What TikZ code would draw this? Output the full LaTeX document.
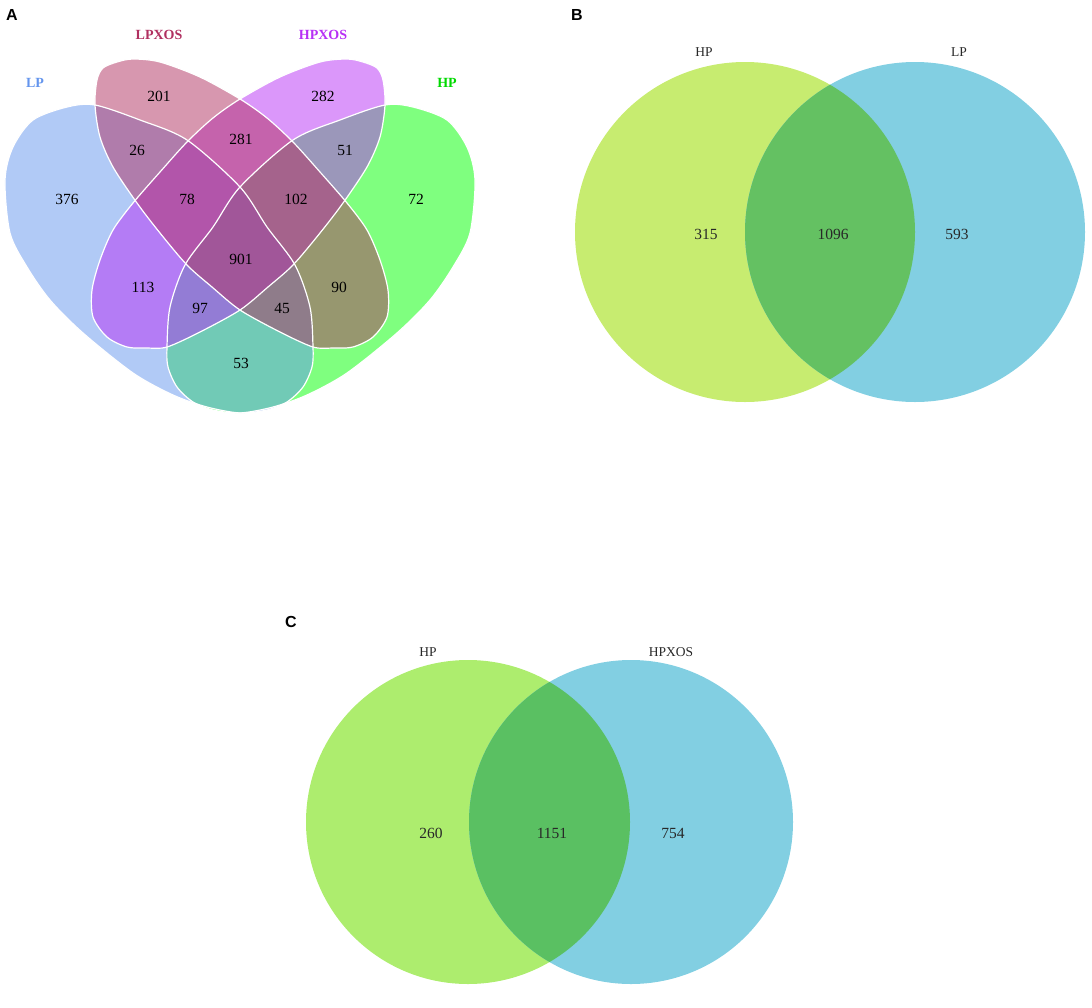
\documentclass[tikz,border=0pt]{standalone}
\usepackage{fontspec}
\setmainfont{Liberation Serif}
\newfontfamily\panelfont{Liberation Sans}
\definecolor{lpblue}{RGB}{100,149,237}
\definecolor{lpxosred}{RGB}{176,48,96}
\definecolor{hpxosviolet}{RGB}{183,48,245}
\definecolor{hpgreen}{RGB}{0,255,0}
\definecolor{bhpfill}{RGB}{199,236,112}
\definecolor{chpfill}{RGB}{173,237,110}
\definecolor{lpfill}{RGB}{130,207,226}
\definecolor{bbothfill}{RGB}{100,193,98}
\definecolor{cbothfill}{RGB}{90,192,98}
\definecolor{numgray}{RGB}{40,40,40}
\tikzset{
  setfill/.style={fill=#1, fill opacity=0.5},
  edge/.style={draw=white, line width=1.2pt},
  count/.style={font=\fontsize{15.5}{18}\selectfont},
  setlabel/.style={font=\fontsize{14}{17}\selectfont\bfseries, text=#1},
  panel/.style={font=\panelfont\fontsize{16}{19}\selectfont\bfseries},
  vcount/.style={font=\fontsize{15.5}{18}\selectfont, text=numgray},
  vlabel/.style={font=\fontsize{13.5}{16}\selectfont, text=numgray}
}
\newcommand{\lpshape}{plot[smooth cycle] coordinates {(95,105) (67,107) (33,120) (13,147) (5,180) (10,233) (27,267) (50,300) (83,333) (133,373) (173,395) (207,407) (240,413) (267,410) (287,402) (303,387) (312,367) (313,347) (310,307) (295,265) (267,227) (240,187) (187,140) (140,120)}}
\newcommand{\lpxosshape}{plot[smooth cycle] coordinates {(95,105) (97,80) (103,68) (117,62) (133,59) (160,62) (200,77) (240,99) (267,118) (293,142) (320,172) (347,203) (367,230) (380,260) (388,290) (387,317) (373,337) (353,347) (333,348) (313,347) (280,332) (240,310) (212,287) (187,265) (160,233) (137,203) (113,167) (100,137)}}
\begin{document}
\begin{tikzpicture}[x=1pt, y=-1pt]
\useasboundingbox (0,0) rectangle (1092,1007);
% A
\begin{scope}[shift={(480,0)}, xscale=-1]
\fill[setfill=hpgreen] \lpshape;
\end{scope}
\fill[setfill=lpblue] \lpshape;
\begin{scope}[shift={(480,0)}, xscale=-1]
\fill[setfill=hpxosviolet] \lpxosshape;
\end{scope}
\fill[setfill=lpxosred] \lpxosshape;
\draw[edge] \lpshape;
\draw[edge] \lpxosshape;
\begin{scope}[shift={(480,0)}, xscale=-1]
\draw[edge] \lpshape;
\draw[edge] \lpxosshape;
\end{scope}
\node[panel] (pa) at (12,15) {A};
\node[setlabel=lpblue] (lplab) at (35,83) {LP};
\node[setlabel=lpxosred] (lpxoslab) at (159,35) {LPXOS};
\node[setlabel=hpxosviolet] (hpxoslab) [node distance=164pt, right of=lpxoslab] {HPXOS};
\node[setlabel=hpgreen!85!black] (hplab) [node distance=412pt, right of=lplab] {HP};
\node[count] (all) at (241,259) {901};
\node[count] (n376) at (67,199) {376};
\node[count] (n201) at (159,96) {201};
\node[count] (n282) at (323,96) {282};
\node[count] (n72) at (416,199) {72};
\node[count] (n26) at (137,150) {26};
\node[count] (n281) at (241,139) {281};
\node[count] (n51) at (345,150) {51};
\node[count] (n78) at (187,199) {78};
\node[count] (n102) at (296,199) {102};
\node[count] (n113) at (143,287) {113};
\node[count] (n90) at (339,287) {90};
\node[count] (n97) at (200,308) {97};
\node[count] (n45) at (282,308) {45};
\node[count] (n53) at (241,363) {53};
% B
\fill[bhpfill] (745,232) circle (170pt);
\fill[lpfill] (915,232) circle (170pt);
\begin{scope}
\clip (745,232) circle (170pt);
\fill[bbothfill] (915,232) circle (170pt);
\end{scope}
\node[panel] (pb) at (577,15) {B};
\node[vlabel] (bhplab) at (704,52) {HP};
\node[vlabel] (blplab) [node distance=255pt, right of=bhplab] {LP};
\node[vcount] (bmid) at (833,234) {1096};
\node[vcount] (bleft) [node distance=127pt, left of=bmid] {315};
\node[vcount] (bright) [node distance=124pt, right of=bmid] {593};
% C
\fill[chpfill] (468,822) circle (162pt);
\fill[lpfill] (631,822) circle (162pt);
\begin{scope}
\clip (468,822) circle (162pt);
\fill[cbothfill] (631,822) circle (162pt);
\end{scope}
\node[panel] (pc) at (291,622) {C};
\node[vlabel] (chplab) at (428,652) {HP};
\node[vlabel] (chpxoslab) [node distance=243pt, right of=chplab] {HPXOS};
\node[vcount] (cmid) at (552,833) {1151};
\node[vcount] (cleft) [node distance=121pt, left of=cmid] {260};
\node[vcount] (cright) [node distance=121pt, right of=cmid] {754};
\end{tikzpicture}
\end{document}
